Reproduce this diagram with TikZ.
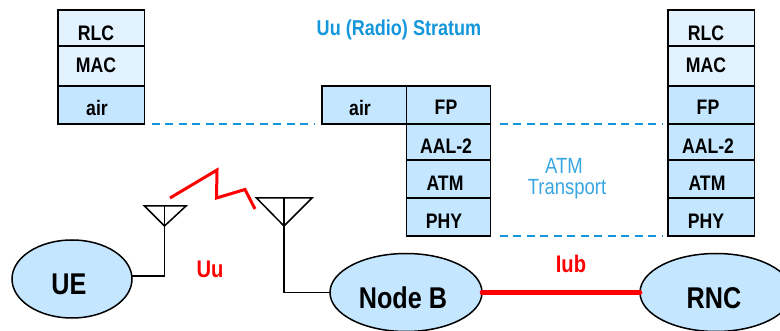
\documentclass[tikz,border=0pt]{standalone}
\usepackage{fontspec}
\setmainfont[FakeStretch=0.84]{Liberation Sans}
\usetikzlibrary{shapes.geometric}
\definecolor{lightcell}{HTML}{E3F2FF}
\definecolor{cell}{HTML}{C4E6FF}
\definecolor{linkblue}{HTML}{1496DC}
\tikzset{
  x=1pt,y=-1pt,
  cellbox/.style={draw=black,line width=1.7pt,fill=cell,inner sep=0pt,outer sep=0pt,anchor=north west},
  upperbox/.style={cellbox,fill=lightcell},
  celltext/.style={font=\bfseries\fontsize{21}{21}\selectfont,inner sep=0pt,text=black},
  site/.style={draw=black,line width=1.5pt,fill=cell,ellipse,inner sep=0pt,outer sep=0pt},
  sitetext/.style={font=\bfseries\fontsize{30}{30}\selectfont,inner sep=0pt,text=black},
  wire/.style={draw=black,line width=1.5pt},
  peerlink/.style={linkblue,line width=2pt,dash pattern=on 8pt off 5.5pt},
  radio/.style={draw=red,line width=3pt},
}
\begin{document}
\begin{tikzpicture}
\useasboundingbox (0,0) rectangle (780,331);
% left stack
\node[upperbox,minimum width=86.5pt,minimum height=36pt] (lrlc) at (58,10) {};
\node[upperbox,minimum width=86.5pt,minimum height=40pt] (lmac) at (58,46) {};
\node[cellbox,minimum width=86.5pt,minimum height=38pt] (lair) at (58,86) {};
\node[celltext] (tlrlc) at (96,33) {RLC};
\node[celltext] (tlmac) at (96,65) {MAC};
\node[celltext] (tlair) at (97,108) {air};
% middle stack
\node[cellbox,minimum width=84.5pt,minimum height=38pt] (mair) at (322,86) {};
\node[cellbox,minimum width=84pt,minimum height=38pt] (mfp) at (406.5,86) {};
\node[cellbox,minimum width=84pt,minimum height=36pt] (maal) at (406.5,124) {};
\node[cellbox,minimum width=84pt,minimum height=38pt] (matm) at (406.5,160) {};
\node[cellbox,minimum width=84pt,minimum height=38pt] (mphy) at (406.5,198) {};
\node[celltext] (tmair) at (360,108) {air};
\node[celltext] (tmfp) at (446,107) {FP};
\node[celltext] (tmaal) at (446,146) {AAL-2};
\node[celltext] (tmatm) at (445,183) {ATM};
\node[celltext] (tmphy) at (444,221) {PHY};
% right stack
\node[upperbox,minimum width=86.5pt,minimum height=36pt] (rrlc) at (668,10) {};
\node[upperbox,minimum width=86.5pt,minimum height=40pt] (rmac) at (668,46) {};
\node[cellbox,minimum width=86.5pt,minimum height=38pt] (rfp) at (668,86) {};
\node[cellbox,minimum width=86.5pt,minimum height=36pt] (raal) at (668,124) {};
\node[cellbox,minimum width=86.5pt,minimum height=38pt] (ratm) at (668,160) {};
\node[cellbox,minimum width=86.5pt,minimum height=38pt] (rphy) at (668,198) {};
\node[celltext] (trrlc) at (706,33) {RLC};
\node[celltext] (trmac) at (706,65) {MAC};
\node[celltext] (trfp) at (708,107) {FP};
\node[celltext] (traal) at (708,146) {AAL-2};
\node[celltext] (tratm) at (707,183) {ATM};
\node[celltext] (trphy) at (706,221) {PHY};
% peer links
\draw[peerlink,shorten <=7pt,shorten >=8pt] (lair.south east) -- (mair.south west);
\draw[peerlink,shorten <=9pt,shorten >=6pt] (mfp.south east) -- (rfp.south west);
\draw[peerlink,shorten <=9pt,shorten >=6pt] (mphy.south east) -- (rphy.south west);
% captions
\node[font=\bfseries\fontsize{21.5}{21.5}\selectfont,text=linkblue,inner sep=0pt] (stratum) at (399,30) {Uu (Radio) Stratum};
\node[font=\fontsize{22}{22}\selectfont,text=linkblue!85,inner sep=0pt] (atm) at (564,166) {ATM};
\node[font=\fontsize{22}{22}\selectfont,text=linkblue!85,inner sep=0pt] (transport) at (567,189) {Transport};
\node[font=\bfseries\fontsize{24}{24}\selectfont,text=red,inner sep=0pt] (uu) at (210,269) {Uu};
\node[font=\bfseries\fontsize{24}{24}\selectfont,text=red,inner sep=0pt] (iub) at (571,264) {Iub};
% sites
\node[site,minimum width=120pt,minimum height=78pt] (ue) at (72,279) {};
\node[site,minimum width=152pt,minimum height=78pt] (nodeb) at (406,292.5) {};
\node[site,minimum width=152pt,minimum height=78pt] (rnc) at (716,292.5) {};
\node[sitetext] (tue) at (69,284) {UE};
\node[sitetext] (tnodeb) at (403,298) {Node B};
\node[sitetext] (trnc) at (714,298) {RNC};
% antennas
\coordinate (a1tip) at (164.5,226);
\coordinate (a1l) at (144.5,206);
\coordinate (a1r) at (186,206);
\coordinate (a1top) at (164.5,206);
\coordinate (a1foot) at (164.5,276);
\draw[wire] (a1l) -- (a1r) -- (a1tip) -- cycle;
\draw[wire] (a1top) -- (a1foot) -- (ue.east |- a1foot);
\coordinate (a2tip) at (284,226);
\coordinate (a2l) at (256.5,198);
\coordinate (a2r) at (312,198);
\coordinate (a2top) at (284,198);
\coordinate (a2foot) at (284,292.5);
\draw[wire] (a2l) -- (a2r) -- (a2tip) -- cycle;
\draw[wire] (a2top) -- (a2foot) -- (nodeb.west);
% radio link
\coordinate (z0) at (170,198);
\coordinate (z1) at (217,170);
\coordinate (z2) at (216.5,198);
\coordinate (z3) at (245,189.5);
\coordinate (z4) at (255,209);
\draw[radio,line join=miter] (z0) -- (z1) -- (z2) -- (z3) -- (z4);
% Iub link
\draw[draw=red,line width=4.6pt,line cap=round] (nodeb.east) -- (rnc.west);
\end{tikzpicture}
\end{document}
